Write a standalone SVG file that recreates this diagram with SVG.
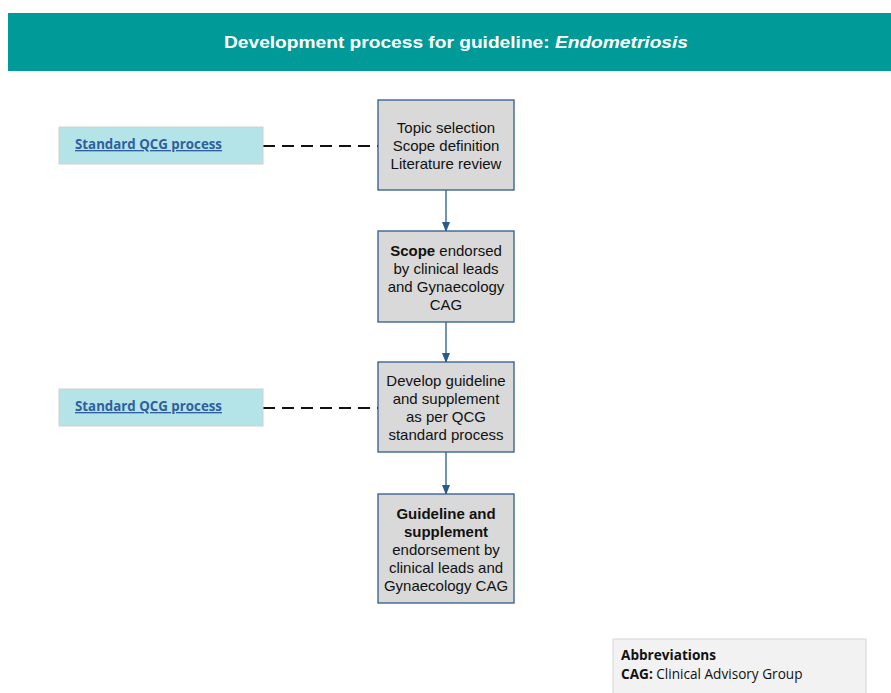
<svg xmlns="http://www.w3.org/2000/svg" width="891" height="693" viewBox="0 0 891 693">
<style>
.box{fill:#d9d9d9;stroke:#2e5c8a;stroke-width:1.3}
.t{font-family:"Liberation Sans",Arial,sans-serif;font-size:15px;fill:#111;text-anchor:middle}
.b{font-weight:bold}
.side{fill:#b5e4e8;stroke:#d0d0d0;stroke-width:1}
.link{font-family:"Open Sans","Liberation Sans",sans-serif;font-size:13.3px;font-weight:bold;fill:#2e5f9e;text-decoration:underline}
.dash{stroke:#111;stroke-width:2;stroke-dasharray:12 7;fill:none}
.arr{stroke:#2a5a8a;stroke-width:1.3;fill:none}
.ab{font-family:"Open Sans","Liberation Sans",sans-serif;font-size:13.6px;fill:#111}
</style>
<defs>
<marker id="ah" markerWidth="10" markerHeight="8" refX="9" refY="4" orient="auto" markerUnits="userSpaceOnUse">
<path d="M0,0 L10,4 L0,8 Z" fill="#2a5a8a"/>
</marker>
</defs>
<rect width="891" height="693" fill="#fff"/>
<g id="header">
<rect x="8" y="13" width="883" height="58" fill="#009a98"/>
<text x="456" y="47.5" font-family="Liberation Sans,Arial,sans-serif" font-size="17" font-weight="bold" fill="#fff" text-anchor="middle" textLength="464" lengthAdjust="spacingAndGlyphs">Development process for guideline: <tspan font-style="italic">Endometriosis</tspan></text>
</g>
<g id="connectors">
<line class="dash" x1="263" y1="146" x2="378" y2="146"/>
<line class="dash" x1="263" y1="408" x2="378" y2="408"/>
<line class="arr" x1="446" y1="190" x2="446" y2="231" marker-end="url(#ah)"/>
<line class="arr" x1="446" y1="322" x2="446" y2="362" marker-end="url(#ah)"/>
<line class="arr" x1="446" y1="452" x2="446" y2="494" marker-end="url(#ah)"/>
</g>
<g id="side1">
<rect class="side" x="59" y="127" width="204" height="37"/>
<text class="link" x="75" y="149">Standard QCG process</text>
</g>
<g id="side2">
<rect class="side" x="59" y="389" width="204" height="37"/>
<text class="link" x="75" y="411">Standard QCG process</text>
</g>
<g id="n1">
<rect class="box" x="378" y="100" width="136" height="90"/>
<text class="t" x="446" y="133">Topic selection</text>
<text class="t" x="446" y="151">Scope definition</text>
<text class="t" x="446" y="169">Literature review</text>
</g>
<g id="n2">
<rect class="box" x="378" y="231" width="136" height="91"/>
<text class="t" x="446" y="256"><tspan class="b">Scope</tspan> endorsed</text>
<text class="t" x="446" y="274">by clinical leads</text>
<text class="t" x="446" y="292">and Gynaecology</text>
<text class="t" x="446" y="310">CAG</text>
</g>
<g id="n3">
<rect class="box" x="378" y="362" width="136" height="90"/>
<text class="t" x="446" y="386">Develop guideline</text>
<text class="t" x="446" y="404">and supplement</text>
<text class="t" x="446" y="422">as per QCG</text>
<text class="t" x="446" y="440">standard process</text>
</g>
<g id="n4">
<rect class="box" x="378" y="494" width="136" height="109"/>
<text class="t b" x="446" y="519">Guideline and</text>
<text class="t b" x="446" y="537">supplement</text>
<text class="t" x="446" y="555">endorsement by</text>
<text class="t" x="446" y="573">clinical leads and</text>
<text class="t" x="446" y="591">Gynaecology CAG</text>
</g>
<g id="abbrev">
<rect x="613" y="639" width="253" height="60" fill="#f2f2f2" stroke="#d6d6d6" stroke-width="1"/>
<text class="ab" x="621" y="660" font-weight="bold">Abbreviations</text>
<text class="ab" x="621" y="679"><tspan font-weight="bold">CAG:</tspan> Clinical Advisory Group</text>
</g>
</svg>
